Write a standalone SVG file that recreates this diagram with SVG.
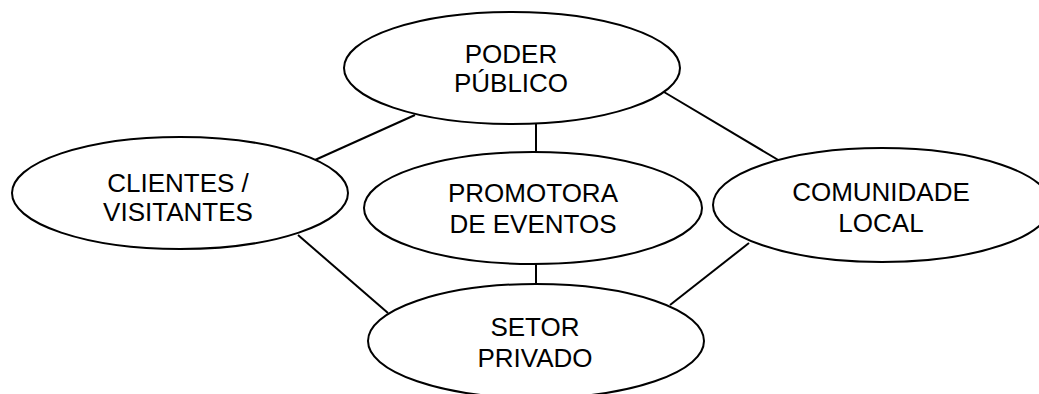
<svg xmlns="http://www.w3.org/2000/svg" width="1039" height="394" viewBox="0 0 1039 394">
<style>
.n ellipse{fill:#fff;stroke:#000;stroke-width:2}
.n text{font-family:"Liberation Sans",Arial,sans-serif;font-size:26px;fill:#000;text-anchor:middle}
#connectors line{stroke:#000;stroke-width:2}
</style>
<rect width="1039" height="394" fill="#fff"/>
<g id="connectors">
<line x1="315" y1="160" x2="415" y2="115"/>
<line x1="664" y1="92" x2="780" y2="161"/>
<line x1="536" y1="124" x2="536" y2="152"/>
<line x1="298" y1="235" x2="388" y2="313"/>
<line x1="749" y1="243" x2="670" y2="305"/>
<line x1="536" y1="264" x2="536" y2="284"/>
</g>
<g id="poder" class="n">
<ellipse cx="512" cy="68" rx="168" ry="56"/>
<text x="511" y="63">PODER</text>
<text x="511" y="92">PÚBLICO</text>
</g>
<g id="clientes" class="n">
<ellipse cx="180" cy="193" rx="168" ry="56"/>
<text x="178" y="192">CLIENTES /</text>
<text x="178" y="221">VISITANTES</text>
</g>
<g id="promotora" class="n">
<ellipse cx="533" cy="208" rx="169" ry="56"/>
<text x="533" y="202">PROMOTORA</text>
<text x="533" y="233">DE EVENTOS</text>
</g>
<g id="comunidade" class="n">
<ellipse cx="882" cy="205" rx="169" ry="57"/>
<text x="881" y="201">COMUNIDADE</text>
<text x="881" y="232">LOCAL</text>
</g>
<g id="setor" class="n">
<ellipse cx="536" cy="341" rx="168" ry="57"/>
<text x="535" y="336">SETOR</text>
<text x="535" y="367">PRIVADO</text>
</g>
</svg>
